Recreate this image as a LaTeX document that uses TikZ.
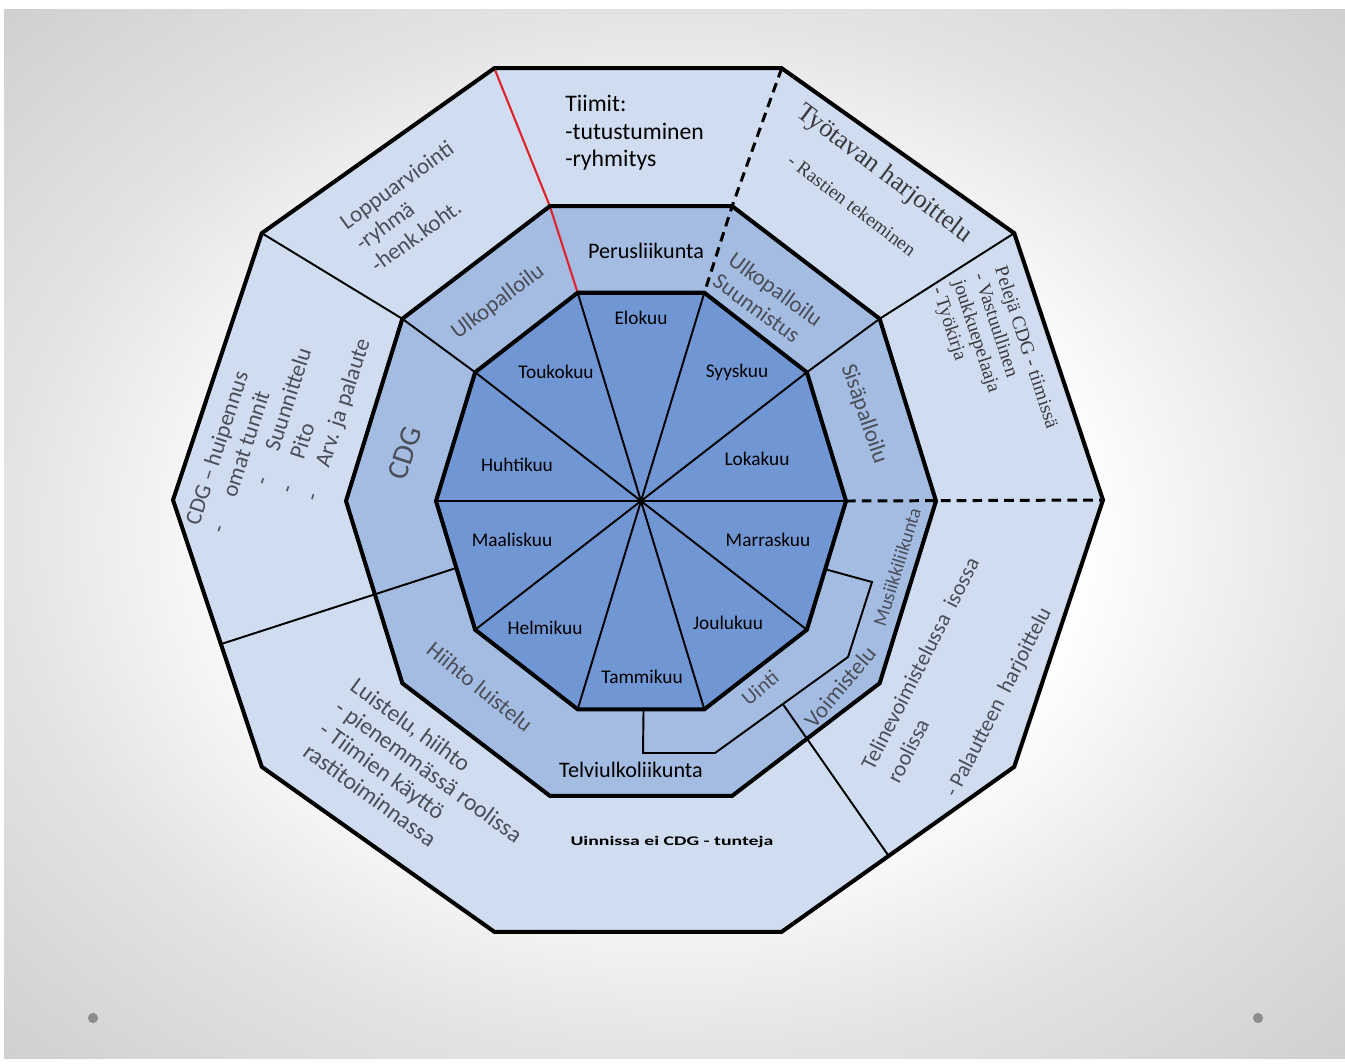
\documentclass[tikz,border=0pt]{standalone}
\usepackage{fontspec}
\usepackage{graphicx}
\setmainfont{Carlito}
\newfontfamily\serifface{Liberation Serif}
\usetikzlibrary{calc}

\definecolor{ringout}{RGB}{208,220,239}
\definecolor{ringmid}{RGB}{164,188,226}
\definecolor{ringin}{RGB}{112,150,212}
\definecolor{labelgray}{RGB}{74,78,88}
\definecolor{serifgray}{RGB}{58,58,62}
\definecolor{dotgray}{RGB}{140,140,140}
\definecolor{redline}{RGB}{224,35,43}

\pgfdeclareradialshading{slideglow}{\pgfpoint{0bp}{0bp}}{%
  color(0bp)=(white); color(15bp)=(white); color(25bp)=(black!11);
  color(36bp)=(black!19); color(50bp)=(black!19)}

\begin{document}
\begin{tikzpicture}[x=0.02cm,y=-0.02cm,
  borderline/.style={line width=2.3pt, line join=miter},
  thinline/.style={line width=1.1pt},
  dashline/.style={line width=1.7pt, dash pattern=on 5.5pt off 3.5pt},
  ringlabel/.style={text=labelgray, inner sep=0pt, align=left,
    font=\fontsize{13}{15}\selectfont},
  darklabel/.style={text=black, inner sep=0pt,
    font=\fontsize{12.6}{15}\selectfont},
  month/.style={text=black, inner sep=0pt,
    font=\fontsize{11}{13}\selectfont},
  seriflabel/.style={text=serifgray, inner sep=0pt, align=left}]

\useasboundingbox (0,0) rectangle (1345,1063);

% slide background
\fill[white] (0,0) rectangle (1345,1063);
\shade[shading=slideglow] (4,9) rectangle (1345,1058);
\fill[dotgray] (93,1018) circle (2.9pt);
\fill[dotgray] (1258,1018) circle (2.9pt);

% the three decagons: vertex i sits at 36*i degrees, counter-clockwise from the right
\coordinate (C) at (641,501);
\coordinate (CO) at (638,500);
\foreach \i in {0,...,9}{
  \coordinate (O\i) at ($(CO)+({-36*\i}:465 and 454)$);
  \coordinate (M\i) at ($(C)+({-36*\i}:295 and 310)$);
  \coordinate (I\i) at ($(C)+({-36*\i}:205 and 219)$);
}

\fill[ringout] (O0) \foreach \i in {1,...,9}{ -- (O\i)} -- cycle;
\fill[ringmid] (M0) \foreach \i in {1,...,9}{ -- (M\i)} -- cycle;
\fill[ringin]  (I0) \foreach \i in {1,...,9}{ -- (I\i)} -- cycle;

% month spokes
\foreach \i in {0,...,9}{ \draw[thinline] (C) -- (I\i); }

% sector dividers
\draw[thinline] (O1) -- (M1) -- (I1);
\draw[thinline] (O4) -- (M4) -- (I4);
\coordinate (Lout) at ($(O5)!0.54!(O6)$);
\coordinate (Lin)  at ($(I5)!0.52!(I6)$);
\draw[thinline] (Lout) -- (Lin);

% swimming box inside the middle ring
\coordinate (U1) at ($(I0)!0.53!(I9)$);
\coordinate (U2) at (872,582);
\coordinate (U3) at (848,657);
\coordinate (U4) at (715,753);
\coordinate (U5) at (643,753);
\coordinate (U6) at ($(I7)!0.52!(I8)$);
\draw[thinline, line join=miter] (U1) -- (U2) -- (U3) -- (U4) -- (U5) -- (U6);
\coordinate (U7) at ($(U3)!0.49!(U4)$);
\coordinate (Rout) at ($(O9)!0.54!(O8)$);
\draw[thinline] (U7) -- (Rout);

% dashed and red dividers
\draw[dashline] (O2) -- (M2) -- (I2);
\draw[dashline] (I0) -- (O0);
\draw[redline, line width=1.2pt] (O3) -- (M3) -- (I3);

% decagon borders
\draw[borderline] (O0) \foreach \i in {1,...,9}{ -- (O\i)} -- cycle;
\draw[borderline] (M0) \foreach \i in {1,...,9}{ -- (M\i)} -- cycle;
\draw[borderline] (I0) \foreach \i in {1,...,9}{ -- (I\i)} -- cycle;

% months
\node[month] (elokuu)    at (641,318) {Elokuu};
\node[month] (toukokuu)  at (556,372) {Toukokuu};
\node[month] (syyskuu)   at (737,372) {Syyskuu};
\node[month] (huhtikuu)  at (517,465) {Huhtikuu};
\node[month] (lokakuu)   at (757,459) {Lokakuu};
\node[month] (maaliskuu) at (512,540) {Maaliskuu};
\node[month] (marraskuu) at (768,540) {Marraskuu};
\node[month] (helmikuu)  at (545,628) {Helmikuu};
\node[month] (joulukuu)  at (728,623) {Joulukuu};
\node[month] (tammikuu)  at (642,677) {Tammikuu};

% middle ring
\node[darklabel] (perus) at (646,251) {Perusliikunta};
\node[darklabel] (telvi) at (631,770) {Telviulkoliikunta};
\node[ringlabel, rotate=37] (ulko1) at (498,302) {Ulkopalloilu};
\node[ringlabel, rotate=-36] (ulko2) at (768,300) {Ulkopalloilu\\Suunnistus};
\node[ringlabel, rotate=-71] (sisa) at (864,414) {Sisäpalloilu};
\node[ringlabel, rotate=72, font=\fontsize{17}{20}\selectfont] (cdgmid) at (405,453) {CDG};
\node[ringlabel, rotate=73, font=\fontsize{11}{13}\selectfont] (musiikki) at (897,567) {Musiikkiliikunta};
\node[ringlabel, rotate=50] (voim) at (840,687) {Voimistelu};
\node[ringlabel, rotate=40, font=\fontsize{12}{14}\selectfont] (uinti) at (760,688) {Uinti};
\node[ringlabel, rotate=-39] (hiihto) at (480,687) {Hiihto luistelu};

% outer ring
\node[text=black, inner sep=0pt, anchor=north west, align=left,
  font=\fontsize{13.5}{15.6}\selectfont] (tiimit) at (565,95)
  {Tiimit:\\-tutustuminen\\-ryhmitys};
\node[ringlabel, rotate=36] (loppu) at (412,206)
  {Loppuarviointi\\-ryhmä\\-henk.koht.};
\node[ringlabel, rotate=72] (huipennus) at (279,432)
  {CDG – huipennus\\
   \makebox[1.65em][l]{-}omat tunnit\\
   \hspace*{2.6em}\makebox[1.55em][l]{-}Suunnittelu\\
   \hspace*{2.6em}\makebox[1.55em][l]{-}Pito\\
   \hspace*{2.6em}\makebox[1.55em][l]{-}Arv. ja palaute};
\node[ringlabel, rotate=-36, font=\fontsize{13.5}{15.3}\selectfont] (luistelu) at (421,782)
  {Luistelu, hiihto\\- pienemmässä roolissa\\- Tiimien käyttö\\rastitoiminnassa};
\node[text=black, inner sep=0pt] (uinnissa) at (672,842)
  {\scalebox{1.5}[1]{\bfseries\fontsize{7.5}{9}\selectfont Uinnissa ei CDG - tunteja}};
\node[ringlabel, rotate=63, font=\fontsize{12.5}{16.4}\selectfont] (teline) at (960,684)
  {Telinevoimistelussa\ \ isossa\\roolissa\\[16.4pt]\hspace*{0.6em}- Palautteen\hspace{0.45em}harjoittelu};
\node[seriflabel, rotate=-72, font=\serifface\fontsize{11}{12.5}\selectfont] (pelit) at (994,358)
  {Pelejä CDG - tiimissä\\- Vastuullinen\\joukkuepelaaja\\- Työkirja};
\node[seriflabel, rotate=-37, font=\serifface\fontsize{15}{17}\selectfont] (tyotapa) at (884,174)
  {Työtavan harjoittelu};
\node[seriflabel, rotate=-37, font=\serifface\fontsize{11}{13}\selectfont] (rastit) at (852,205)
  {- Rastien tekeminen};

\end{tikzpicture}
\end{document}
